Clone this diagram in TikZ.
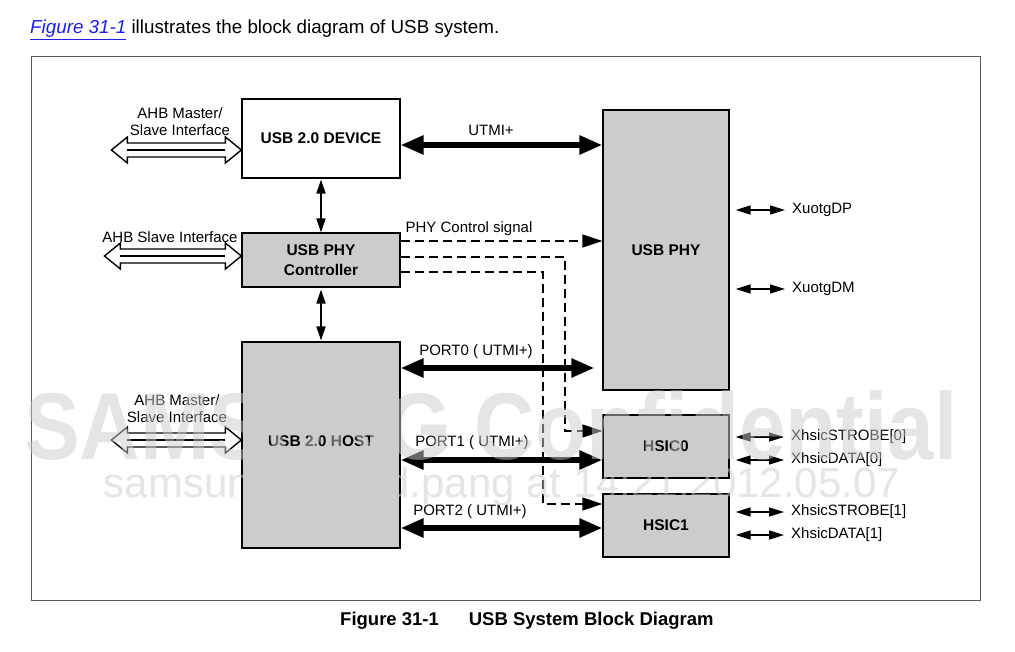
\documentclass[tikz,border=0pt]{standalone}
\usepackage{fontspec}
\setmainfont{Liberation Sans}
\usetikzlibrary{arrows.meta}
\definecolor{boxgray}{gray}{0.8}
\definecolor{wm}{gray}{0.8}
\definecolor{framegray}{gray}{0.35}
\definecolor{linkblue}{HTML}{1F1FE6}
\newcommand\bfont{\fontsize{15.5}{18}\selectfont\bfseries}
\newcommand\rfont{\fontsize{15}{17}\selectfont}
\newcommand\hollowarr[2]{%
  \draw[hollow] (#1) -- ++(-16,-13) -- ++(0,6) -- ++(-#2,0) -- ++(0,-6) -- ++(-16,13)
     -- ++(16,13) -- ++(0,-6) -- ++(#2,0) -- ++(0,6) -- cycle;
  \draw[line width=2.2pt] (#1) ++(-16,0) -- ++(-#2,0);}
\tikzset{
  box/.style={draw, line width=1.2pt, inner sep=0pt, align=center, font=\bfont},
  greybox/.style={box, fill=boxgray},
  lab/.style={inner sep=0pt, font=\rfont, align=center},
  pinlab/.style={inner sep=3pt, font=\rfont, anchor=west},
  bigarr/.style={line width=5.5pt, {Triangle[width=18pt,length=23pt]}-{Triangle[width=18pt,length=23pt]}},
  varrow/.style={line width=1.8pt, {Triangle[width=9pt,length=14pt]}-{Triangle[width=9pt,length=14pt]}},
  dsh/.style={line width=1.2pt, dash pattern=on 9pt off 5pt, -{Triangle[width=13pt,length=20pt]}},
  pinarr/.style={line width=1.5pt, {Triangle[width=9pt,length=15pt]}-{Triangle[width=9pt,length=15pt]}},
  hollow/.style={draw, line width=1.4pt, fill=white, line join=miter},
  wmark/.style={text=wm, text opacity=0.5, inner sep=0pt}
}
\begin{document}
\begin{tikzpicture}[x=1pt,y=-1pt]
\useasboundingbox[fill=white] (0,0) rectangle (1015,652);

% intro sentence
\node[anchor=base west, inner sep=0pt, font=\fontsize{18.8}{22}\selectfont] (intro) at (30,33.5)
  {\textcolor{linkblue}{\itshape\underline{Figure 31-1}} illustrates the block diagram of USB system.};

% frame
\draw[framegray, line width=1pt] (31,57) rectangle (980,600);

% boxes
\node[box, minimum width=158pt, minimum height=79pt] (dev) at (321,138.5) {USB 2.0 DEVICE};
\node[greybox, minimum width=158pt, minimum height=54pt] (ctrl) at (321,260) {USB PHY\\[2pt]Controller};
\node[greybox, minimum width=158pt, minimum height=206pt] (host) at (321,445) {\raisebox{8pt}{USB 2.0 HOST}};
\node[greybox, minimum width=126pt, minimum height=280pt] (phy) at (666,250) {USB PHY};
\node[greybox, minimum width=126pt, minimum height=63pt] (hsic0) at (666,446.5) {HSIC0};
\node[greybox, minimum width=126pt, minimum height=63pt] (hsic1) at (666,525.5) {HSIC1};

% hollow bus arrows and labels
\hollowarr{dev.west |- 0,150}{98}
\hollowarr{ctrl.west |- 0,256}{105}
\hollowarr{host.west |- 0,440}{98}
\node[lab] (ahb1) at (180,121.5) {AHB Master/\\Slave Interface};
\node[lab] (ahb2) at (170,237) {AHB Slave Interface};
\node[lab] (ahb3) at (177,408.5) {AHB Master/\\Slave Interface};

% vertical arrows
\draw[varrow] ([yshift=-1pt]dev.south) -- (ctrl.north);
\draw[varrow] ([yshift=-2pt]ctrl.south) -- ([yshift=1pt]host.north);

% thick arrows
\draw[bigarr] (dev.east |- 0,145) -- (phy.west |- 0,145);
\node[lab] (utmi) at (491,130) {UTMI+};
\draw[bigarr] (host.east |- 0,368) -- ([xshift=-8pt]phy.west |- 0,368);
\node[lab] (p0) at (476,352) {PORT0 ( UTMI+)};
\draw[bigarr] (host.east |- 0,460) -- (hsic0.west |- 0,460);
\node[lab] (p1) at (472,443) {PORT1 ( UTMI+)};
\draw[bigarr] (host.east |- 0,528) -- (hsic1.west |- 0,528);
\node[lab] (p2) at (470,512) {PORT2 ( UTMI+)};

% dashed control signals
\draw[dsh] (ctrl.east |- 0,241) -- (phy.west |- 0,241);
\node[lab] (pcs) at (469,229) {PHY Control signal};
\draw[dsh] (ctrl.east |- 0,257) -- (565,257) -- (565,431) -- (hsic0.west |- 0,431);
\draw[dsh] (ctrl.east |- 0,272) -- (543,272) -- (543,504) -- (hsic1.west |- 0,504);

% pins
\node[pinlab] (xdp) at (789,210) {XuotgDP};
\node[pinlab] (xdm) at (789,289) {XuotgDM};
\node[pinlab] (xs0) at (788,437) {XhsicSTROBE[0]};
\node[pinlab] (xd0) at (788,460) {XhsicDATA[0]};
\node[pinlab] (xs1) at (788,512) {XhsicSTROBE[1]};
\node[pinlab] (xd1) at (788,535) {XhsicDATA[1]};
\draw[pinarr, shorten <=6pt, shorten >=4pt] (phy.east |- xdp.west) -- (xdp.west);
\draw[pinarr, shorten <=6pt, shorten >=4pt] (phy.east |- xdm.west) -- (xdm.west);
\draw[pinarr, shorten <=6pt, shorten >=4pt] (hsic0.east |- xs0.west) -- (xs0.west);
\draw[pinarr, shorten <=6pt, shorten >=4pt] (hsic0.east |- xd0.west) -- (xd0.west);
\draw[pinarr, shorten <=6pt, shorten >=4pt] (hsic1.east |- xs1.west) -- (xs1.west);
\draw[pinarr, shorten <=6pt, shorten >=4pt] (hsic1.east |- xd1.west) -- (xd1.west);

% caption
\node[anchor=west, inner sep=0pt, font=\fontsize{18.5}{22}\selectfont\bfseries] (cap) at (340,621)
  {Figure 31-1\hspace{30pt}USB System Block Diagram};

% watermark
\node[wmark, font=\fontsize{95}{100}\selectfont\bfseries] (wm1) at (491,426)
  {\scalebox{0.88}[1]{SAMSUNG Confidential}};
\node[wmark, font=\fontsize{42}{46}\selectfont] (wm2) at (502,487)
  {samsung / david.pang at 14:21.2012.05.07};
\end{tikzpicture}
\end{document}
